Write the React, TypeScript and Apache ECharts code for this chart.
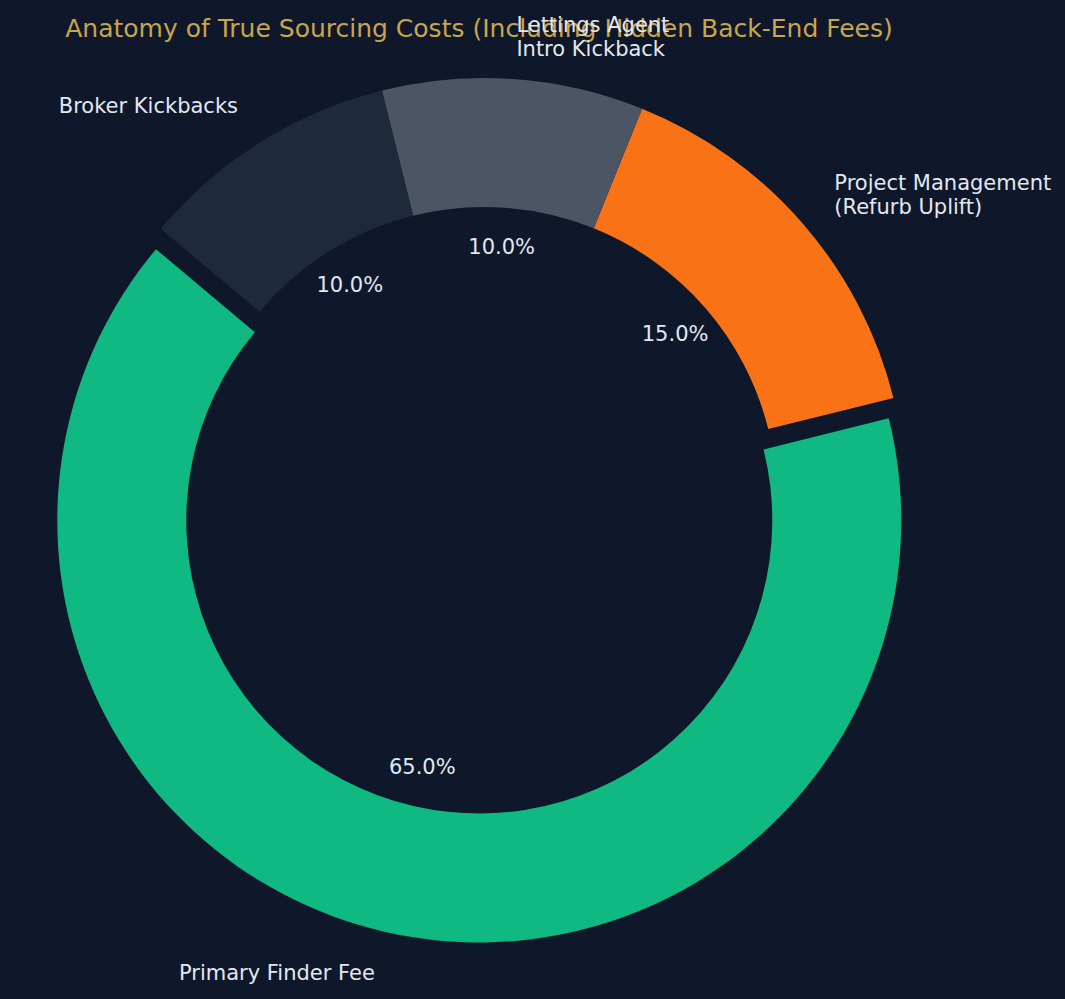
import React, { useEffect, useRef } from "react";
import * as echarts from "echarts";

// Cost components, listed counter-clockwise from the start angle
const categories = [
  "Primary Finder Fee",
  "Project Management\n(Refurb Uplift)",
  "Lettings Agent\nIntro Kickback",
  "Broker Kickbacks",
];
const shares = [65, 15, 10, 10];
const sliceColors = ["#10b981", "#f97316", "#4b5563", "#1e293b"];
const explodedIndex = 0;

const TITLE = "Anatomy of True Sourcing Costs (Including Hidden Back-End Fees)";
const BG = "#0f172a";
const TEXT = "#e2e8f0";
const TITLE_COLOR = "#c9a54c";
const FONT = "'DejaVu Sans', sans-serif";

// Geometry of the donut
const CX = 484;
const CY = 500;
const R_OUT = 422;
const R_IN = 293;
const START_ANGLE = 140;
const EXPLODE = 21;
const LABEL_DIST = 1.1;
const PCT_DIST = 0.6;

export default function App() {
  const ref = useRef<HTMLDivElement>(null);

  useEffect(() => {
    if (!ref.current) return;
    const chart = echarts.init(ref.current, null, { renderer: "svg" });
    const total = shares.reduce((a, b) => a + b, 0);

    // Label positions follow each slice's mid angle
    const texts: any[] = [];
    let acc = START_ANGLE;
    shares.forEach((v, i) => {
      const span = (v / total) * 360;
      const mid = ((acc + span / 2) * Math.PI) / 180;
      acc += span;
      const cosA = Math.cos(mid);
      const sinA = Math.sin(mid);
      const off = i === explodedIndex ? EXPLODE : 0;
      const cx = CX + off * cosA;
      const cy = CY - off * sinA;
      texts.push({
        type: "text",
        x: cx + LABEL_DIST * R_OUT * cosA,
        y: cy - LABEL_DIST * R_OUT * sinA,
        style: {
          text: categories[i],
          fill: TEXT,
          font: `21px ${FONT}`,
          lineHeight: 24,
          align: cosA > 0 ? "left" : "right",
          verticalAlign: "middle",
        },
        z: 10,
      });
      texts.push({
        type: "text",
        x: cx + PCT_DIST * R_OUT * cosA,
        y: cy - PCT_DIST * R_OUT * sinA,
        style: {
          text: ((v / total) * 100).toFixed(1) + "%",
          fill: TEXT,
          font: `21px ${FONT}`,
          align: "center",
          verticalAlign: "middle",
        },
        z: 10,
      });
    });

    chart.setOption({
      animation: false,
      backgroundColor: BG,
      graphic: [
        {
          type: "text",
          x: 479,
          y: 28,
          style: {
            text: TITLE,
            fill: TITLE_COLOR,
            font: `25px ${FONT}`,
            align: "center",
            verticalAlign: "middle",
          },
          z: 5,
        },
        ...texts,
      ],
      series: [
        {
          type: "pie",
          center: [CX, CY],
          radius: [R_IN, R_OUT],
          startAngle: START_ANGLE,
          clockwise: false,
          selectedMode: "single",
          selectedOffset: EXPLODE,
          avoidLabelOverlap: false,
          label: { show: false },
          labelLine: { show: false },
          emphasis: { disabled: true },
          itemStyle: { borderWidth: 0 },
          data: shares.map((v, i) => ({
            name: categories[i],
            value: v,
            selected: i === explodedIndex,
            itemStyle: { color: sliceColors[i], borderWidth: 0 },
            select: { itemStyle: { color: sliceColors[i], borderWidth: 0 } },
          })),
        },
      ],
    });
    return () => chart.dispose();
  }, []);

  return (
    <div
      ref={ref}
      style={{ position: "absolute", left: 0, top: 0, width: 1065, height: 999 }}
    />
  );
}
